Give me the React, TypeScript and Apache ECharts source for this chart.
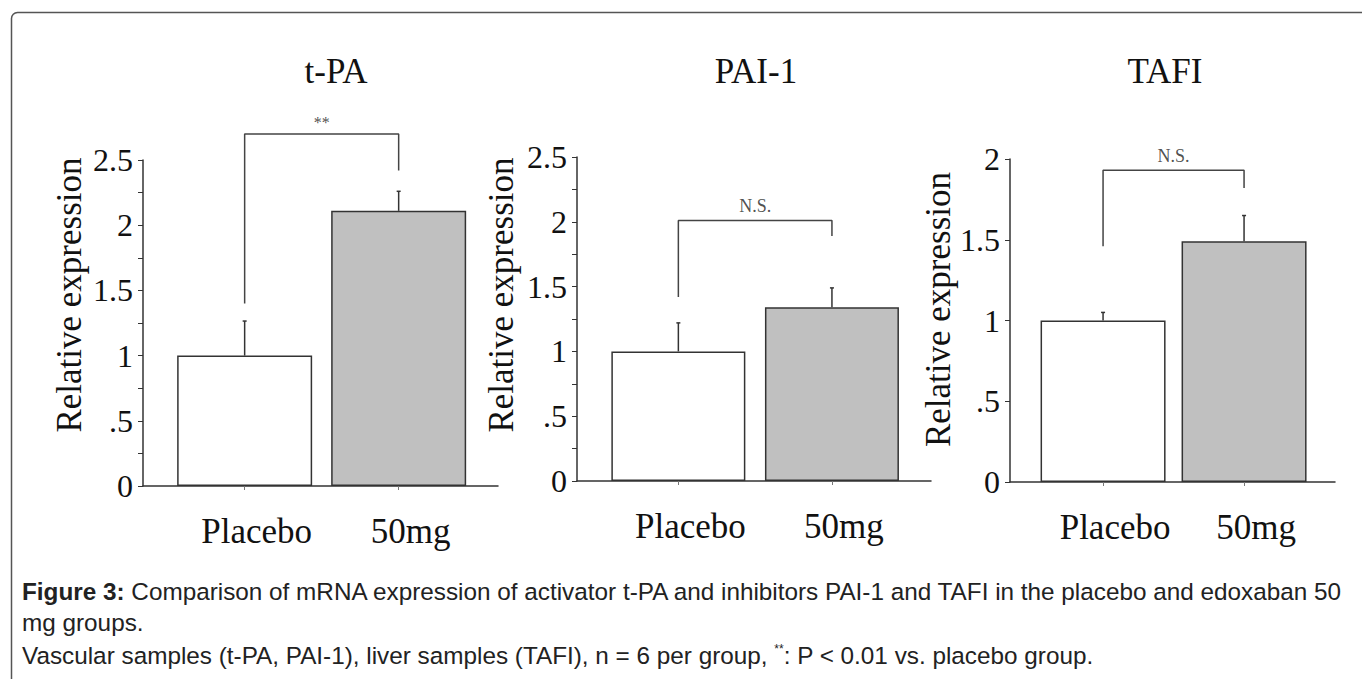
import React, { useEffect, useRef } from "react";
import * as echarts from "echarts";

// ---- data ----
const categories = ["Placebo", "50mg"];
const panelTitles = ["t-PA", "PAI-1", "TAFI"];
const tpaMeans = [1.0, 2.11];
const tpaUpper = [1.265, 2.26];
const pai1Means = [1.0, 1.34];
const pai1Upper = [1.22, 1.49];
const tafiMeans = [1.0, 1.49];
const tafiUpper = [1.05, 1.65];
const yMaxes = [2.5, 2.5, 2];
const significance = ["**", "N.S.", "N.S."];
// bracket: [left leg bottom, top, right leg bottom, label y]
const tpaBracket = [1.4, 2.7, 2.42, 2.79];
const pai1Bracket = [1.42, 2.01, 1.89, 2.12];
const tafiBracket = [1.46, 1.93, 1.82, 2.02];

const captionLine1Bold = "Figure 3:";
const captionLine1 =
  " Comparison of mRNA expression of activator t-PA and inhibitors PAI-1 and TAFI in the placebo and edoxaban 50";
const captionLine2 = "mg groups.";
const captionLine3a = "Vascular samples (t-PA, PAI-1), liver samples (TAFI), n = 6 per group, ";
const captionLine3b = ": P < 0.01 vs. placebo group.";

const means = [tpaMeans, pai1Means, tafiMeans];
const uppers = [tpaUpper, pai1Upper, tafiUpper];
const brackets = [tpaBracket, pai1Bracket, tafiBracket];

// ---- layout ----
const grids = [
  { left: 143, top: 160, width: 355, height: 326 },
  { left: 577, top: 157, width: 354, height: 324 },
  { left: 1010, top: 159, width: 325, height: 323 },
];
const barWidths = [135, 134, 125];
const titleX = [331, 751, 1160];
const nameGaps = [56, 58, 50];
const namePads = [56, 48, 22];
const SERIF = "'Liberation Serif', 'Times New Roman', serif";
const SANS = "'Liberation Sans', Arial, sans-serif";
const INK = "#333";
const CAP = 24.3;

const yFmt = (v: number) => {
  if (v === 0) return "0";
  const s = String(v);
  return v < 1 ? s.replace(/^0/, "") : s;
};

export default function App() {
  const ref = useRef<HTMLDivElement>(null);
  useEffect(() => {
    document.body.style.margin = "0";
    if (!ref.current) return;
    const chart = echarts.init(ref.current, null, { renderer: "svg" });

    const xAxis: any[] = [];
    const yAxis: any[] = [];
    const series: any[] = [];

    for (let i = 0; i < 3; i++) {
      xAxis.push({
        type: "value",
        gridIndex: i,
        min: 0.34,
        max: 2.645,
        axisLine: { show: true, onZero: false, lineStyle: { color: INK, width: 1.5 } },
        axisTick: { show: true, customValues: [1, 2], length: 4, lineStyle: { color: "#777" } },
        axisLabel: {
          customValues: [1, 2],
          formatter: (v: number) => categories[Math.round(v) - 1],
          fontFamily: SERIF,
          fontSize: 35,
          color: "#111",
          margin: 28,
          padding: [0, 0, 0, 24],
        },
        splitLine: { show: false },
      });
      yAxis.push({
        type: "value",
        gridIndex: i,
        min: 0,
        max: yMaxes[i],
        interval: 0.5,
        axisLine: { show: true, onZero: false, lineStyle: { color: INK, width: 1.5 } },
        axisTick: { show: true, length: 5, lineStyle: { color: INK } },
        minorTick: { show: i < 2, splitNumber: 2, length: 5, lineStyle: { color: INK } },
        axisLabel: {
          formatter: yFmt,
          fontFamily: SERIF,
          fontSize: 32,
          color: "#111",
          margin: 10,
        },
        name: "Relative expression",
        nameLocation: "middle",
        nameGap: nameGaps[i],
        nameTextStyle: {
          fontFamily: SERIF,
          fontSize: 35,
          color: "#111",
          padding: [0, 0, 0, namePads[i]],
        },
        splitLine: { show: false },
      });

      series.push({
        type: "bar",
        xAxisIndex: i,
        yAxisIndex: i,
        barWidth: barWidths[i],
        data: categories.map((_, k) => ({
          value: [k + 1, means[i][k]],
          itemStyle: {
            color: k === 0 ? "#ffffff" : "#c0c0c0",
            borderColor: INK,
            borderWidth: 1.5,
          },
        })),
      });
      series.push({
        type: "custom",
        xAxisIndex: i,
        yAxisIndex: i,
        data: categories.map((_, k) => [k + 1, means[i][k], uppers[i][k]]),
        renderItem: (_p: any, api: any) => {
          const x = api.value(0);
          const a = api.coord([x, api.value(1)]);
          const b = api.coord([x, api.value(2)]);
          return {
            type: "group",
            children: [
              { type: "line", shape: { x1: a[0], y1: a[1], x2: b[0], y2: b[1] }, style: { stroke: INK, lineWidth: 1.5 } },
              { type: "line", shape: { x1: b[0] - 2, y1: b[1], x2: b[0] + 2, y2: b[1] }, style: { stroke: INK, lineWidth: 1.5 } },
            ],
          };
        },
        z: 3,
      });
      const br = brackets[i];
      series.push({
        type: "line",
        xAxisIndex: i,
        yAxisIndex: i,
        clip: false,
        symbol: "none",
        lineStyle: { color: "#444", width: 1.5 },
        data: [
          [1, br[0]],
          [1, br[1]],
          [2, br[1]],
          [2, br[2]],
        ],
      });
      series.push({
        type: "scatter",
        xAxisIndex: i,
        yAxisIndex: i,
        clip: false,
        symbolSize: 1,
        itemStyle: { color: "transparent" },
        label: {
          show: true,
          position: "inside",
          formatter: significance[i],
          fontFamily: SERIF,
          fontSize: i === 0 ? 16 : 18,
          color: "#222",
        },
        data: [[1.5, br[3]]],
      });
    }

    const option: any = {
      animation: false,
      backgroundColor: "#ffffff",
      title: panelTitles.map((t, i) => ({
        text: t,
        left: titleX[i],
        top: 49,
        textAlign: "center",
        textStyle: { fontFamily: SERIF, fontSize: 35, fontWeight: "normal", color: "#111" },
      })),
      grid: grids.map((g) => ({ ...g, containLabel: false })),
      xAxis,
      yAxis,
      series,
      graphic: [
        {
          type: "rect",
          shape: { x: 11.5, y: 12.5, width: 1420, height: 760, r: 6 },
          style: { fill: "none", stroke: "#555", lineWidth: 1.5 },
          silent: true,
        },
        {
          type: "text",
          left: 22,
          top: 579,
          style: {
            text: "{b|" + captionLine1Bold + "}" + captionLine1,
            fontFamily: SANS,
            fontSize: CAP,
            fill: "#222",
            rich: { b: { fontWeight: "bold", fontFamily: SANS, fontSize: CAP, fill: "#222" } },
          },
        },
        {
          type: "text",
          left: 22,
          top: 610,
          style: { text: captionLine2, fontFamily: SANS, fontSize: CAP, fill: "#222" },
        },
        {
          type: "text",
          left: 22,
          top: 643,
          style: {
            text: captionLine3a + "{s|**}" + captionLine3b,
            fontFamily: SANS,
            fontSize: CAP,
            fill: "#222",
            rich: { s: { fontSize: 12, verticalAlign: "top", fontFamily: SANS, fill: "#222" } },
          },
        },
      ],
    };
    chart.setOption(option);
    return () => chart.dispose();
  }, []);
  return <div ref={ref} style={{ position: "absolute", left: 0, top: 0, width: 1362, height: 679 }} />;
}
